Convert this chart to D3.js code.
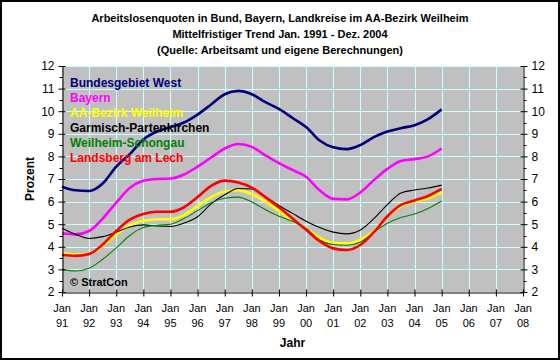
<!DOCTYPE html>
<html>
  <head>
    <style>
      body { margin: 0; background: #fff; }
      text { font-family: Arial, "Liberation Sans", sans-serif; }
    </style>
  </head>

  <body>

    <svg class="surface" width="560" height="360"></svg>

    <script src="https://cdn.jsdelivr.net/npm/d3@7/dist/d3.min.js" charset="utf-8"></script>
    <script>

      // half-year sampling points, Jan 1991 .. Jan 2005
      const zeitpunkte = [1991, 1991.5, 1992, 1992.5, 1993, 1993.5, 1994, 1994.5, 1995, 1995.5,
        1996, 1996.5, 1997, 1997.5, 1998, 1998.5, 1999, 1999.5, 2000, 2000.5,
        2001, 2001.5, 2002, 2002.5, 2003, 2003.5, 2004, 2004.5, 2005]

      const bundWest = [6.66, 6.5, 6.47, 6.8, 7.55, 8.1, 8.75, 9.1, 9.3, 9.5,
        9.85, 10.3, 10.75, 10.9, 10.75, 10.4, 10.1, 9.7, 9.3, 8.7,
        8.4, 8.32, 8.5, 8.85, 9.1, 9.25, 9.38, 9.65, 10.08]
      const bayern = [4.6, 4.55, 4.7, 5.25, 5.95, 6.6, 6.92, 7.0, 7.02, 7.2,
        7.55, 7.95, 8.35, 8.55, 8.42, 8.05, 7.7, 7.4, 7.1, 6.5,
        6.12, 6.1, 6.4, 6.95, 7.45, 7.8, 7.88, 8.0, 8.35]
      const aaWeilheim = [3.72, 3.65, 3.7, 4.05, 4.55, 4.95, 5.15, 5.22, 5.22, 5.4,
        5.8, 6.2, 6.45, 6.5, 6.33, 6.0, 5.58, 5.18, 4.8, 4.4,
        4.17, 4.15, 4.32, 4.7, 5.35, 5.8, 6.0, 6.15, 6.4]
      const garmisch = [4.82, 4.55, 4.37, 4.45, 4.65, 4.88, 4.97, 4.92, 4.9, 5.05,
        5.33, 5.9, 6.3, 6.58, 6.56, 6.22, 5.83, 5.48, 5.13, 4.85,
        4.65, 4.57, 4.74, 5.25, 5.87, 6.38, 6.51, 6.6, 6.73]
      const weilheimSchongau = [3.0, 2.93, 3.05, 3.45, 3.95, 4.5, 4.85, 4.95, 5.0, 5.25,
        5.6, 5.95, 6.15, 6.2, 5.98, 5.65, 5.35, 5.13, 4.82, 4.3,
        4.1, 4.07, 4.2, 4.65, 5.04, 5.3, 5.45, 5.7, 6.03]
      const landsberg = [3.65, 3.6, 3.68, 4.1, 4.7, 5.2, 5.45, 5.55, 5.55, 5.75,
        6.2, 6.7, 6.93, 6.85, 6.62, 6.2, 5.75, 5.25, 4.75, 4.25,
        3.93, 3.86, 4.08, 4.65, 5.35, 5.85, 6.05, 6.25, 6.56]

      const serienNamen = ['Bundesgebiet West', 'Bayern', 'AA-Bezirk Weilheim',
        'Garmisch-Partenkirchen', 'Weilheim-Schongau', 'Landsberg am Lech']
      const serienWerte = [bundWest, bayern, aaWeilheim, garmisch, weilheimSchongau, landsberg]
      const farben = ['#000080', '#ff00ff', '#ffff00', '#000000', '#008000', '#ff0000']
      const breiten = [2.6, 2.6, 2.6, 1.1, 1.1, 2.6]

      const jahreTicks = d3.range(1991, 2009)
      const jahreLabels = jahreTicks.map(j => String(j % 100).padStart(2, '0'))
      const titel = ['Arbeitslosenquoten in Bund, Bayern, Landkreise im AA-Bezirk Weilheim',
        'Mittelfristiger Trend Jan. 1991 - Dez. 2004',
        '(Quelle: Arbeitsamt und eigene Berechnungen)']

      const surface = d3.select('.surface')
      const pLeft = 62, pRight = 523, pTop = 66, pBottom = 292

      const x = d3.scaleLinear().domain([1991, 2008]).range([pLeft, pRight])
      const y = d3.scaleLinear().domain([2, 12]).range([pBottom, pTop])

      // frame
      surface.append('rect')
        .attr('x', 1).attr('y', 1).attr('width', 558).attr('height', 358)
        .attr('fill', '#fff').attr('stroke', '#000').attr('stroke-width', 2)

      // plot area
      surface.append('rect')
        .attr('x', pLeft).attr('y', pTop).attr('width', pRight - pLeft).attr('height', pBottom - pTop)
        .attr('fill', '#c0c0c0')

      const grid = surface.append('g').attr('stroke', '#ccffff').attr('stroke-width', 1)
      grid.selectAll('.h').data(d3.range(3, 13)).enter().append('line')
        .attr('x1', pLeft).attr('x2', pRight)
        .attr('y1', d => Math.round(y(d)) + 0.5).attr('y2', d => Math.round(y(d)) + 0.5)
      grid.selectAll('.v').data(jahreTicks.slice(1, -1)).enter().append('line')
        .attr('y1', pTop).attr('y2', pBottom)
        .attr('x1', d => Math.round(x(d)) + 0.5).attr('x2', d => Math.round(x(d)) + 0.5)

      // series
      const line = d3.line()
        .x((d, i) => x(zeitpunkte[i]))
        .y(d => y(d))
        .curve(d3.curveMonotoneX)

      surface.append('g').selectAll('path').data(serienWerte).enter().append('path')
        .attr('d', d => line(d))
        .attr('fill', 'none')
        .attr('stroke', (d, i) => farben[i])
        .attr('stroke-width', (d, i) => breiten[i])
        .attr('stroke-linejoin', 'round')

      // axes
      const yLeft = d3.axisLeft(y).tickValues(d3.range(2, 13)).tickSizeInner(4).tickSizeOuter(0).tickPadding(4)
      const yRight = d3.axisRight(y).tickValues(d3.range(2, 13)).tickSizeInner(4).tickSizeOuter(0).tickPadding(4)

      const gl = surface.append('g').attr('transform', `translate(${pLeft + 0.5},0)`).call(yLeft)
      const gr = surface.append('g').attr('transform', `translate(${pRight + 0.5},0)`).call(yRight)
      ;[gl, gr].forEach(g => {
        g.select('.domain').attr('stroke', '#000')
        g.selectAll('.tick line').attr('stroke', '#000')
        g.selectAll('text').attr('font-size', 12).attr('fill', '#000')
      })
      gl.selectAll('.tick line').attr('x1', 3)
      gr.selectAll('.tick line').attr('x1', -3)

      // minor ticks
      const minors = d3.range(2.5, 12, 1)
      gl.selectAll('.minor').data(minors).enter().append('line')
        .attr('x1', -3).attr('x2', 0)
        .attr('y1', d => Math.round(y(d)) + 0.5).attr('y2', d => Math.round(y(d)) + 0.5)
        .attr('stroke', '#000')
      gr.selectAll('.minor').data(minors).enter().append('line')
        .attr('x1', 0).attr('x2', 3)
        .attr('y1', d => Math.round(y(d)) + 0.5).attr('y2', d => Math.round(y(d)) + 0.5)
        .attr('stroke', '#000')

      const xAxis = d3.axisBottom(x).tickValues(jahreTicks).tickSizeInner(4).tickSizeOuter(0).tickFormat('')
      const gx = surface.append('g').attr('transform', `translate(0,${pBottom + 0.5})`).call(xAxis)
      gx.select('.domain').attr('stroke', '#000')
      gx.selectAll('.tick line').attr('stroke', '#000').attr('y1', -3)

      const xl = surface.append('g').selectAll('g').data(jahreTicks).enter().append('g')
        .attr('transform', d => `translate(${x(d)},0)`)
      xl.append('text').attr('y', 312).attr('text-anchor', 'middle').attr('font-size', 11).text('Jan')
      xl.append('text').attr('y', 327).attr('text-anchor', 'middle').attr('font-size', 11)
        .text((d, i) => jahreLabels[i])

      // titles
      surface.append('g').selectAll('text').data(titel).enter().append('text')
        .attr('x', 280).attr('y', (d, i) => 22 + i * 16)
        .attr('text-anchor', 'middle').attr('font-size', 11).attr('font-weight', 'bold')
        .text(d => d)

      surface.append('text')
        .attr('transform', `translate(34,${(pTop + pBottom) / 2}) rotate(-90)`)
        .attr('text-anchor', 'middle').attr('font-size', 12).attr('font-weight', 'bold')
        .text('Prozent')

      surface.append('text')
        .attr('x', (pLeft + pRight) / 2).attr('y', 347)
        .attr('text-anchor', 'middle').attr('font-size', 12).attr('font-weight', 'bold')
        .text('Jahr')

      // legend
      surface.append('g').selectAll('text').data(serienNamen).enter().append('text')
        .attr('x', 70).attr('y', (d, i) => 87 + i * 15)
        .attr('font-size', 12).attr('font-weight', 'bold')
        .attr('fill', (d, i) => farben[i])
        .text(d => d)

      surface.append('text')
        .attr('x', 70).attr('y', 286)
        .attr('font-size', 11).attr('font-weight', 'bold')
        .text('© StratCon')

    </script>
  </body>

</html>
